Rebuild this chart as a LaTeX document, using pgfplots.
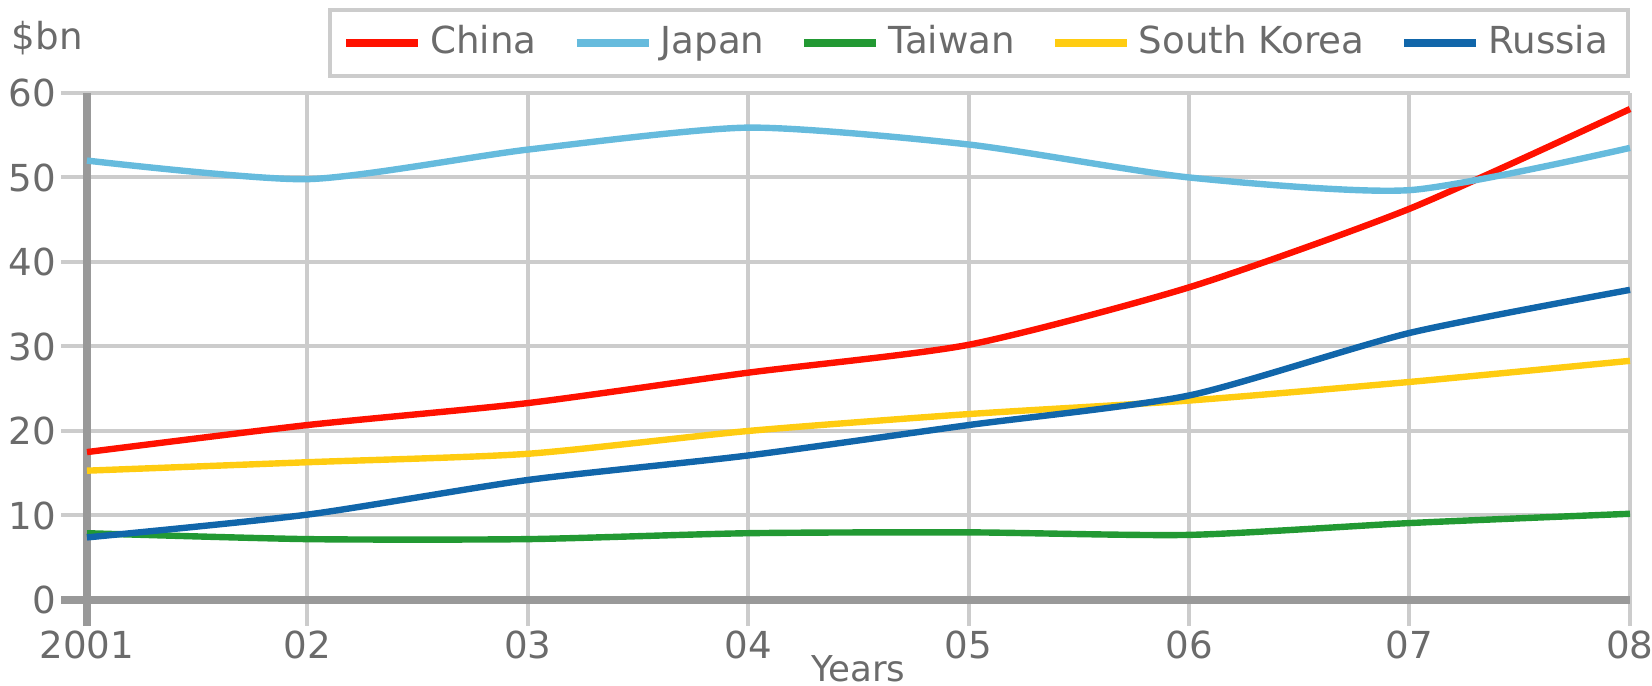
\documentclass[border=0pt]{standalone}
\usepackage{fontspec}
\setmainfont{DejaVu Sans}
\usepackage{pgfplots}
\pgfplotsset{compat=1.18}
\definecolor{txt}{HTML}{6B6B6B}
\definecolor{gridc}{HTML}{CCCCCC}
\definecolor{axc}{HTML}{999999}
\definecolor{cChina}{HTML}{FF1100}
\definecolor{cJapan}{HTML}{66BBDD}
\definecolor{cTaiwan}{HTML}{229933}
\definecolor{cKorea}{HTML}{FFCC11}
\definecolor{cRussia}{HTML}{1166AA}
\begin{document}
\begin{tikzpicture}
\begin{axis}[
  name=ax,
  scale only axis,
  width=385.75pt, height=126.75pt,
  xmin=2001, xmax=2008, ymin=0, ymax=60,
  xtick={2002,...,2008},
  xticklabels={02,03,04,05,06,07,08},
  ytick={10,20,...,60},
  extra x ticks={2001}, extra x tick labels={2001},
  extra y ticks={0}, extra y tick labels={0},
  extra tick style={major grid style={color=axc, line width=2pt}, major tick style={color=axc, line width=2pt}},
  grid=major,
  major grid style={color=gridc, line width=1pt},
  major tick style={color=gridc, line width=1pt},
  tick align=outside,
  major tick length=6.5pt,
  xtick pos=bottom, ytick pos=left,
  axis line style={draw=none},
  font=\fontsize{9.3}{11}\selectfont,
  /pgf/number format/assume math mode=true,
  ticklabel style={text=txt, font=\fontsize{9.3}{11}\selectfont},
  xticklabel style={inner sep=1pt},
  yticklabel style={inner sep=1pt},
  xlabel={Years},
  xlabel style={at={(axis description cs:0.5,0)}, anchor=north, yshift=-13.6pt, inner sep=0pt, text=txt, font=\fontsize{8.9}{10}\selectfont},
  legend columns=5,
  legend style={at={(rel axis cs:1,1)}, anchor=south east, yshift=3.75pt,
    draw=gridc, line width=1pt, text=txt, font=\fontsize{9.3}{11}\selectfont,
    inner xsep=3pt, inner ysep=2pt,
    /tikz/every even column/.append style={column sep=7pt}},
  legend image code/.code={\draw[line width=2pt] (0pt,0pt) -- (18pt,0pt);},
  every axis plot/.append style={line width=1.6pt, smooth, tension=0.4},
  clip=false,
]
\addplot[cChina] coordinates {(2001,17.5) (2002,20.7) (2003,23.3) (2004,26.9) (2005,30.2) (2006,37.0) (2007,46.3) (2008,58.1)};
\addlegendentry{China}
\addplot[cJapan] coordinates {(2001,52.0) (2002,49.8) (2003,53.3) (2004,55.9) (2005,53.9) (2006,50.0) (2007,48.5) (2008,53.5)};
\addlegendentry{Japan}
\addplot[cTaiwan] coordinates {(2001,7.9) (2002,7.2) (2003,7.2) (2004,7.9) (2005,8.0) (2006,7.7) (2007,9.1) (2008,10.2)};
\addlegendentry{Taiwan}
\addplot[cKorea] coordinates {(2001,15.3) (2002,16.3) (2003,17.3) (2004,20.0) (2005,22.0) (2006,23.6) (2007,25.8) (2008,28.3)};
\addlegendentry{South Korea}
\addplot[cRussia] coordinates {(2001,7.4) (2002,10.1) (2003,14.2) (2004,17.1) (2005,20.7) (2006,24.2) (2007,31.6) (2008,36.7)};
\addlegendentry{Russia}
\end{axis}
\node[anchor=base west, text=txt, font=\fontsize{9.3}{11}\selectfont, inner sep=0pt] at ([shift={(-19pt,10.75pt)}]ax.north west) {\$bn};
\pgfresetboundingbox
\path ([shift={(-21.75pt,-21.5pt)}]ax.south west) rectangle ([shift={(5.5pt,23.25pt)}]ax.north east);
\end{tikzpicture}
\end{document}
